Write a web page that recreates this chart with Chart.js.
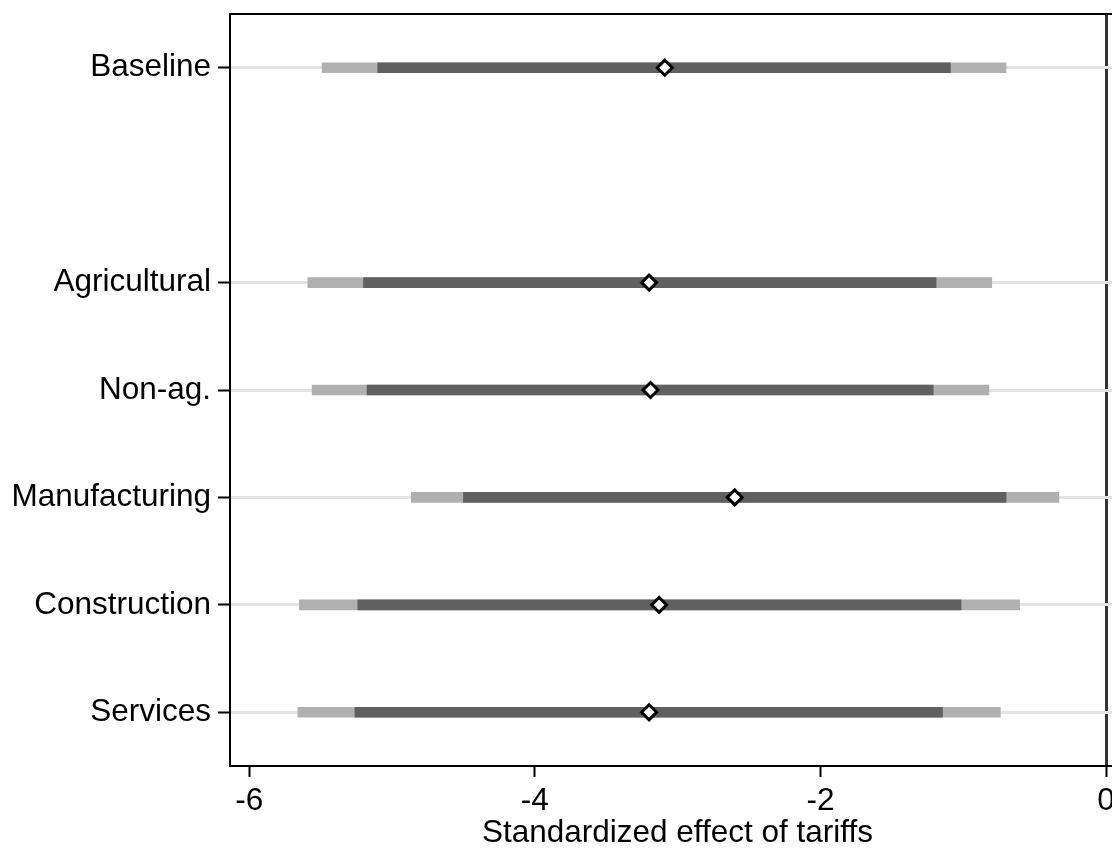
<!DOCTYPE html>
<html>
<head>
<meta charset="utf-8">
<script src="https://cdn.jsdelivr.net/npm/chart.js@4/dist/chart.umd.min.js"></script>
<style>
    html, body { margin: 0; padding: 0; background: #fff; overflow: hidden; }
    #wrap { width: 1125px; height: 848px; }
</style>
</head>
<body>
<div id="wrap"><canvas id="myChart" width="1125" height="848"></canvas></div>
<script>
// rows, top to bottom; rowPos leaves an empty slot under Baseline
const categories = ['Baseline', 'Agricultural', 'Non-ag.', 'Manufacturing', 'Construction', 'Services'];
const rowPos = [6, 4, 3, 2, 1, 0];
const estimate = [-3.09, -3.20, -3.19, -2.60, -3.13, -3.20];
const ci90Low = [-5.10, -5.20, -5.175, -4.50, -5.24, -5.26];
const ci90High = [-1.09, -1.19, -1.21, -0.70, -1.015, -1.145];
const ci95Low = [-5.49, -5.59, -5.56, -4.865, -5.65, -5.66];
const ci95High = [-0.70, -0.80, -0.82, -0.33, -0.605, -0.74];
const xTicks = [-6, -4, -2, 0];

const FONT = "'Liberation Sans', Arial, sans-serif";

const framePlugin = {
    id: 'frame',
    afterDraw(chart) {
        const a = chart.chartArea;
        const c = chart.ctx;
        c.save();
        c.strokeStyle = '#000';
        c.lineWidth = 2;
        c.strokeRect(a.left, a.top, a.right - a.left, a.bottom - a.top);
        c.restore();
    }
};

let ctx = document.getElementById('myChart').getContext('2d');
let chart = new Chart(ctx, {
    type: 'bar',
    data: {
        datasets: [
            {
                type: 'line',
                label: 'Estimate',
                data: estimate.map((v, i) => ({x: v, y: rowPos[i]})),
                showLine: false,
                pointStyle: 'rectRot',
                pointRadius: 7.5,
                borderWidth: 3,
                borderColor: '#000',
                backgroundColor: '#fff',
                order: 0,
            },
            {
                label: '90% CI',
                data: ci90Low.map((v, i) => ({x: [v, ci90High[i]], y: rowPos[i]})),
                backgroundColor: '#606060',
                barThickness: 10,
                grouped: false,
                order: 1,
            },
            {
                label: '95% CI',
                data: ci95Low.map((v, i) => ({x: [v, ci95High[i]], y: rowPos[i]})),
                backgroundColor: '#b0b0b0',
                barThickness: 10,
                grouped: false,
                order: 2,
            },
        ]
    },
    options: {
        indexAxis: 'y',
        responsive: false,
        animation: false,
        events: [],
        layout: {
            autoPadding: false,
            padding: {top: 14, left: 0, right: 0, bottom: 0},
        },
        plugins: {
            legend: {display: false},
            tooltip: {enabled: false},
        },
        scales: {
            x: {
                type: 'linear',
                min: -6.135,
                max: 0.133,
                afterBuildTicks: (scale) => { scale.ticks = xTicks.map(v => ({value: v})); },
                afterFit: (scale) => {
                    scale.height = 82;
                    scale.paddingLeft = 0;
                    scale.paddingRight = 0;
                },
                border: {display: false},
                grid: {
                    color: (c) => (c.tick && c.tick.value === 0) ? '#333333' : 'rgba(0,0,0,0)',
                    lineWidth: 3,
                    tickColor: '#000',
                    tickWidth: 2,
                    tickLength: 11,
                },
                ticks: {
                    color: '#000',
                    font: {family: FONT, size: 31.5},
                    padding: 5,
                    maxRotation: 0,
                },
                title: {
                    display: true,
                    text: 'Standardized effect of tariffs',
                    color: '#000',
                    font: {family: FONT, size: 31.5},
                    padding: {top: 0, bottom: -4},
                },
            },
            y: {
                type: 'linear',
                min: -0.5,
                max: 6.5,
                offset: false,
                afterBuildTicks: (scale) => { scale.ticks = rowPos.map(v => ({value: v})); },
                afterFit: (scale) => {
                    scale.width = 230;
                    scale.paddingTop = 0;
                    scale.paddingBottom = 0;
                },
                border: {display: false},
                grid: {
                    offset: false,
                    color: '#e3e3e3',
                    lineWidth: 3,
                    tickColor: '#000',
                    tickWidth: 2,
                    tickLength: 12,
                },
                ticks: {
                    color: '#000',
                    font: {family: FONT, size: 31.5},
                    padding: 7,
                    callback: (v) => categories[rowPos.indexOf(v)],
                },
            },
        },
    },
    plugins: [framePlugin],
});
</script>
</body>
</html>
